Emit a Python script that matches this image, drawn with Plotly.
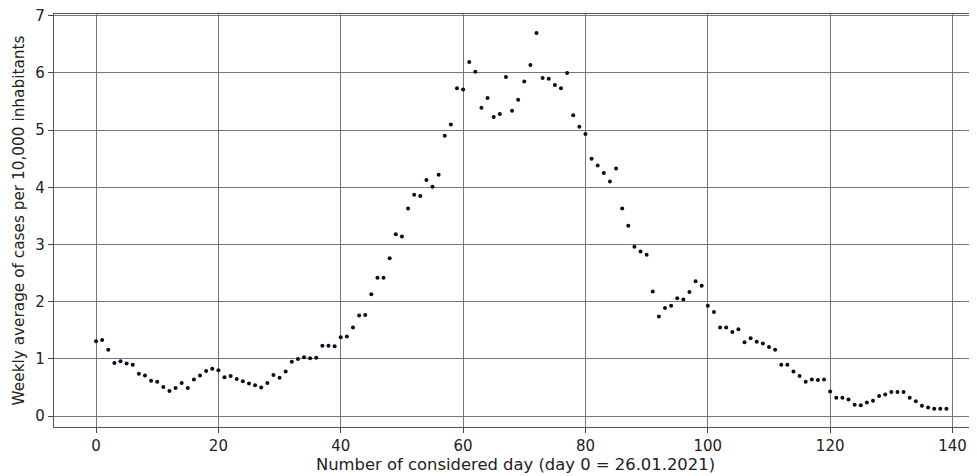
import plotly.graph_objects as go

days = list(range(140))
values = [
    1.31, 1.33, 1.16, 0.93, 0.96, 0.92, 0.90, 0.74, 0.71, 0.62,
    0.60, 0.51, 0.44, 0.49, 0.58, 0.49, 0.64, 0.71, 0.79, 0.83,
    0.80, 0.68, 0.70, 0.65, 0.61, 0.57, 0.54, 0.50, 0.58, 0.72,
    0.67, 0.78, 0.95, 1.00, 1.03, 1.01, 1.02, 1.23, 1.23, 1.22,
    1.38, 1.39, 1.55, 1.76, 1.77, 2.13, 2.42, 2.42, 2.76, 3.18,
    3.14, 3.63, 3.87, 3.85, 4.13, 4.01, 4.22, 4.90, 5.10, 5.73,
    5.71, 6.19, 6.02, 5.39, 5.56, 5.23, 5.28, 5.93, 5.34, 5.53,
    5.85, 6.14, 6.70, 5.91, 5.90, 5.79, 5.73, 6.00, 5.26, 5.06,
    4.93, 4.50, 4.38, 4.25, 4.10, 4.33, 3.63, 3.33, 2.96, 2.88,
    2.82, 2.18, 1.74, 1.89, 1.93, 2.06, 2.04, 2.17, 2.36, 2.28,
    1.93, 1.82, 1.55, 1.55, 1.47, 1.52, 1.29, 1.36, 1.30, 1.27,
    1.21, 1.16, 0.90, 0.90, 0.78, 0.70, 0.60, 0.64, 0.63, 0.64,
    0.43, 0.32, 0.32, 0.29, 0.20, 0.19, 0.24, 0.27, 0.35, 0.38,
    0.42, 0.42, 0.42, 0.32, 0.26, 0.18, 0.15, 0.13, 0.13, 0.13,
]
x_ticks = [0, 20, 40, 60, 80, 100, 120, 140]
y_ticks = [0, 1, 2, 3, 4, 5, 6, 7]

fig = go.Figure()
fig.add_trace(go.Scatter(
    x=days, y=values, mode="markers",
    marker=dict(size=4, color="#0b0b1e", line=dict(width=0)),
    showlegend=False, hoverinfo="x+y",
))

tick_font = dict(family="DejaVu Sans", size=15, color="#222222")
# The page body has an 8px default margin, so the figure is sized and
# margined to land the plot area where the reference has it.
fig.update_layout(
    width=969, height=468,
    margin=dict(l=46, r=0, t=6, b=49),
    paper_bgcolor="white", plot_bgcolor="white",
    font=tick_font,
    xaxis=dict(
        range=[-6.87, 144.0], tickvals=x_ticks, ticktext=[str(v) for v in x_ticks],
        showgrid=True, gridcolor="#777777", gridwidth=1.3,
        zeroline=False, showline=True, linecolor="#555555", linewidth=1.3,
        mirror=True, ticks="outside", ticklen=5, tickcolor="#444444",
        tickfont=tick_font, automargin=False, ticklabeloverflow="allow",
        title=dict(text="Number of considered day (day 0 = 26.01.2021)", standoff=3,
                   font=dict(family="DejaVu Sans", size=16.4, color="#222222")),
    ),
    yaxis=dict(
        range=[-0.19, 7.03], tickvals=y_ticks, ticktext=[str(v) for v in y_ticks],
        showgrid=True, gridcolor="#777777", gridwidth=1.3,
        zeroline=False, showline=True, linecolor="#555555", linewidth=1.3,
        mirror=False, ticks="outside", ticklen=5, tickcolor="#444444",
        tickfont=tick_font, automargin=False, ticklabeloverflow="allow",
        title=dict(text="Weekly average of cases per 10,000 inhabitants", standoff=6,
                   font=dict(family="DejaVu Sans", size=15.3, color="#222222")),
    ),
)

fig.write_html("out.html")
